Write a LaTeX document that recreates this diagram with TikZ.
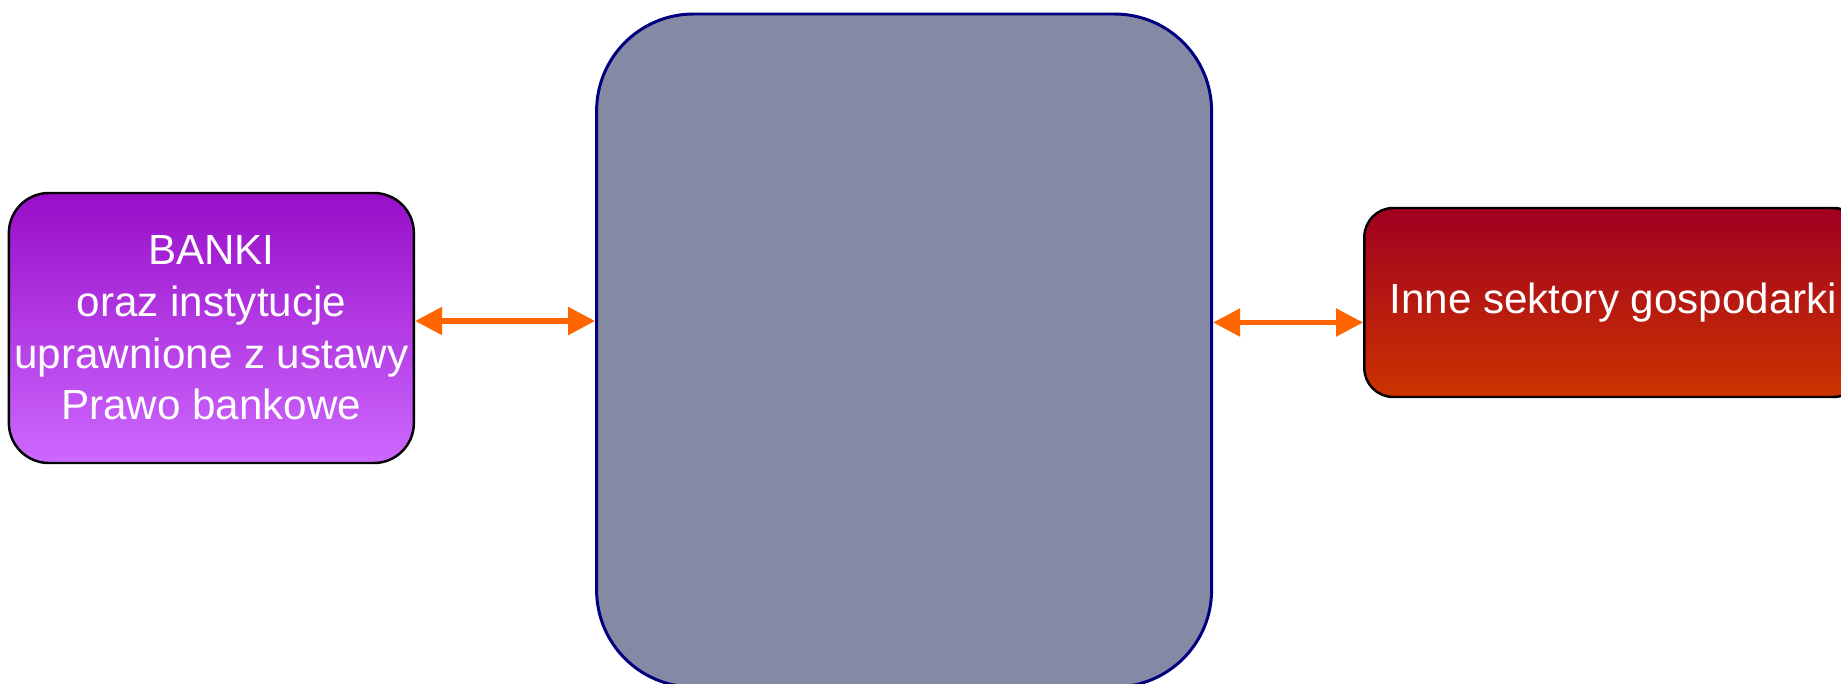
\documentclass[tikz,border=0pt]{standalone}
\usepackage{fontspec}
\setmainfont{Liberation Sans}
\usetikzlibrary{arrows.meta, positioning}
\definecolor{hubfill}{RGB}{133,137,163}
\definecolor{hubline}{RGB}{0,0,128}
\definecolor{bankitop}{RGB}{152,14,200}
\definecolor{bankibot}{RGB}{205,104,255}
\definecolor{innetop}{RGB}{160,0,32}
\definecolor{innebot}{RGB}{204,51,0}
\definecolor{linkorange}{RGB}{255,102,0}

\begin{document}
\begin{tikzpicture}[
  box/.style={rectangle, draw=black, line width=0.7pt, align=center,
              font=\fontsize{12}{14.7}\selectfont, text=white, inner sep=0pt},
  hubbox/.style={rectangle, draw=hubline, line width=0.85pt, fill=hubfill,
                 rounded corners=0.97cm, minimum width=6.15cm, minimum height=6.73cm},
  link/.style={{Triangle[length=2.7mm, width=2.7mm]}-{Triangle[length=2.7mm, width=2.7mm]},
               line width=1.5pt, color=linkorange}
]
\useasboundingbox (0,0) rectangle (18.41,-6.84);

% Central block
\node[hubbox] (hub) at (9.041,-3.505) {};

% Banks
\node[box, left=1.8cm of hub, yshift=2.25mm, rounded corners=0.4cm,
      minimum width=4.05cm, minimum height=2.70cm,
      top color=bankitop, bottom color=bankibot] (banki)
  {BANKI\\oraz instytucje\\uprawnione z ustawy\\Prawo bankowe};

% Other sectors
\node[box, right=1.5cm of hub, yshift=4.8mm, rounded corners=0.29cm,
      minimum width=4.98cm, minimum height=1.89cm,
      top color=innetop, bottom color=innebot] (inne)
  {Inne sektory gospodarki};

% Arrows
\draw[link] ([yshift=0.07cm]banki.east) -- ([yshift=0.07cm]banki.east -| hub.west);
\draw[link] ([yshift=-0.2cm]inne.west -| hub.east) -- ([yshift=-0.2cm]inne.west);

\end{tikzpicture}
\end{document}
